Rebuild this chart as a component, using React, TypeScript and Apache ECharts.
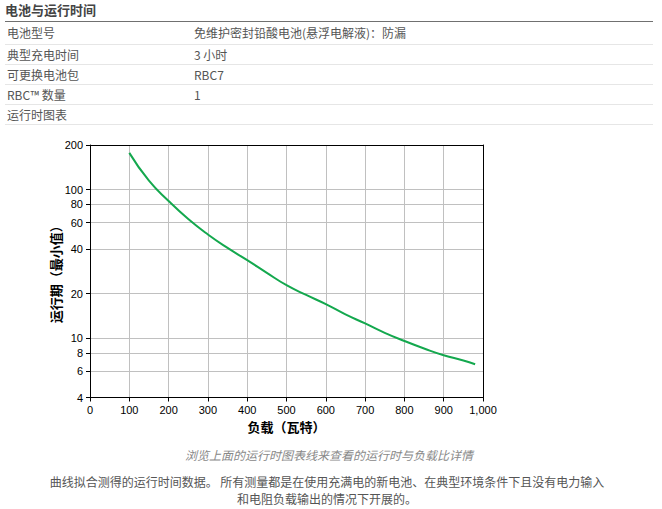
import React, { useEffect, useRef } from "react";
import * as echarts from "echarts";

// ---- data ----
const loadW = [100, 150, 200, 250, 300, 350, 400, 450, 500, 550, 600, 650, 700, 750, 800, 850, 900, 950, 980];
const runtimeMin = [177, 115, 84, 63.5, 50, 40.6, 33.6, 27.6, 22.8, 19.6, 17, 14.5, 12.6, 10.9, 9.6, 8.55, 7.7, 7.1, 6.7];
const yTickValues = [4, 6, 8, 10, 20, 40, 60, 80, 100, 200];
const xMin = 0;
const xMax = 1000;
const xStep = 100;

const title = "电池与运行时间";
const tableLabels = ["电池型号", "典型充电时间", "可更换电池包", "RBC™ 数量", "运行时图表"];
const tableValues = ["免维护密封铅酸电池(悬浮电解液)：防漏", "3 小时", "RBC7", "1", ""];
const xName = "负载（瓦特）";
const yName = "运行期（最小值）";
const hintText = "浏览上面的运行时图表线来查看的运行时与负载比详情";
const noteLines = [
  "曲线拟合测得的运行时间数据。 所有测量都是在使用充满电的新电池、在典型环境条件下且没有电力输入",
  "和电阻负载输出的情况下开展的。",
];

const CJK = '"Noto Sans CJK SC", "Noto Sans", sans-serif';
const AXF = '"Liberation Sans", Arial, sans-serif';

function Chart() {
  const ref = useRef<HTMLDivElement>(null);
  useEffect(() => {
    if (!ref.current) return;
    const chart = echarts.init(ref.current, undefined, { renderer: "svg" });
    const lg = (v: number) => Math.log10(v);
    chart.setOption({
      animation: false,
      grid: { left: 90, top: 145, width: 393, height: 252.5, show: false, containLabel: false },
      xAxis: [
        {
          type: "value",
          min: xMin,
          max: xMax,
          interval: xStep,
          name: xName,
          nameLocation: "middle",
          nameGap: 22,
          nameMoveOverlap: false,
          nameTextStyle: { fontFamily: CJK, fontWeight: "bold", fontSize: 13, color: "#000" },
          axisLine: { show: true, lineStyle: { color: "#000", width: 1 } },
          axisTick: { show: true, length: 4, lineStyle: { color: "#000" } },
          axisLabel: {
            margin: 7,
            color: "#000",
            fontFamily: AXF,
            fontSize: 11,
            formatter: (v: number) => v.toLocaleString("en-US"),
          },
          splitLine: { show: true, showMinLine: false, showMaxLine: false, lineStyle: { color: "#c0c0c0", width: 1 } },
        },
        {
          type: "value",
          position: "top",
          min: xMin,
          max: xMax,
          interval: xStep,
          axisLine: { show: true, onZero: false, lineStyle: { color: "#000", width: 1 } },
          axisTick: { show: false },
          axisLabel: { show: false },
          splitLine: { show: false },
        },
      ],
      yAxis: [
        {
          type: "value",
          min: lg(yTickValues[0]),
          max: lg(yTickValues[yTickValues.length - 1]),
          name: yName,
          nameLocation: "middle",
          nameGap: 28,
          nameMoveOverlap: false,
          nameTextStyle: { fontFamily: CJK, fontWeight: "bold", fontSize: 13, color: "#000" },
          axisLine: { show: true, lineStyle: { color: "#000", width: 1 } },
          axisTick: { show: true, length: 4, lineStyle: { color: "#000" }, customValues: yTickValues.map(lg) },
          axisLabel: {
            margin: 7,
            color: "#000",
            fontFamily: AXF,
            fontSize: 11,
            customValues: yTickValues.map(lg),
            formatter: (v: number) => String(Math.round(Math.pow(10, v))),
          },
          splitLine: { show: true, showMinLine: false, showMaxLine: false, lineStyle: { color: "#c0c0c0", width: 1 } },
        },
        {
          type: "value",
          position: "right",
          min: lg(yTickValues[0]),
          max: lg(yTickValues[yTickValues.length - 1]),
          axisLine: { show: true, onZero: false, lineStyle: { color: "#000", width: 1 } },
          axisTick: { show: false },
          axisLabel: { show: false },
          splitLine: { show: false },
        },
      ],
      series: [
        {
          type: "line",
          data: loadW.map((x, i) => [x, lg(runtimeMin[i])]),
          showSymbol: false,
          symbol: "none",
          smooth: true,
          lineStyle: { color: "#14a84e", width: 2 },
          silent: true,
        },
      ],
    });
    return () => chart.dispose();
  }, []);
  return <div ref={ref} style={{ position: "absolute", left: 0, top: 0, width: 662, height: 509 }} />;
}

export default function App() {
  const rowTop = [21, 44, 64, 84, 104];
  const rowBottom = [44, 64, 84, 104, 124];
  return (
    <div
      style={{
        position: "absolute",
        left: 0,
        top: 0,
        width: 662,
        height: 509,
        background: "#fff",
        fontFamily: CJK,
        overflow: "hidden",
      }}
    >
      <div
        style={{
          position: "absolute",
          left: 5,
          top: 0,
          height: 20,
          lineHeight: "20px",
          fontSize: 13,
          fontWeight: "bold",
          color: "#444",
        }}
      >
        {title}
      </div>
      <div style={{ position: "absolute", left: 5, top: 21, width: 648, height: 1, background: "#707070" }} />
      {tableLabels.map((lab, i) => (
        <React.Fragment key={i}>
          <div
            style={{
              position: "absolute",
              left: 7,
              top: rowTop[i] + 1,
              height: rowBottom[i] - rowTop[i] - 1,
              lineHeight: `${rowBottom[i] - rowTop[i] - 1}px`,
              fontSize: 12,
              color: "#555",
              whiteSpace: "nowrap",
            }}
          >
            {lab}
          </div>
          <div
            style={{
              position: "absolute",
              left: 194,
              top: rowTop[i] + 1,
              height: rowBottom[i] - rowTop[i] - 1,
              lineHeight: `${rowBottom[i] - rowTop[i] - 1}px`,
              fontSize: 12,
              color: "#555",
              whiteSpace: "nowrap",
            }}
          >
            {tableValues[i]}
          </div>
          <div
            style={{ position: "absolute", left: 5, top: rowBottom[i], width: 648, height: 1, background: "#e6e6e6" }}
          />
        </React.Fragment>
      ))}
      <Chart />
      <div
        style={{
          position: "absolute",
          left: 0,
          width: 658,
          top: 446,
          textAlign: "center",
          fontSize: 12,
          lineHeight: "18px",
          fontStyle: "italic",
          color: "#888",
        }}
      >
        {hintText}
      </div>
      <div
        style={{
          position: "absolute",
          left: 0,
          width: 654,
          top: 473,
          textAlign: "center",
          fontSize: 12,
          lineHeight: "17px",
          color: "#555",
        }}
      >
        {noteLines.map((l, i) => (
          <div key={i}>{l}</div>
        ))}
      </div>
    </div>
  );
}
